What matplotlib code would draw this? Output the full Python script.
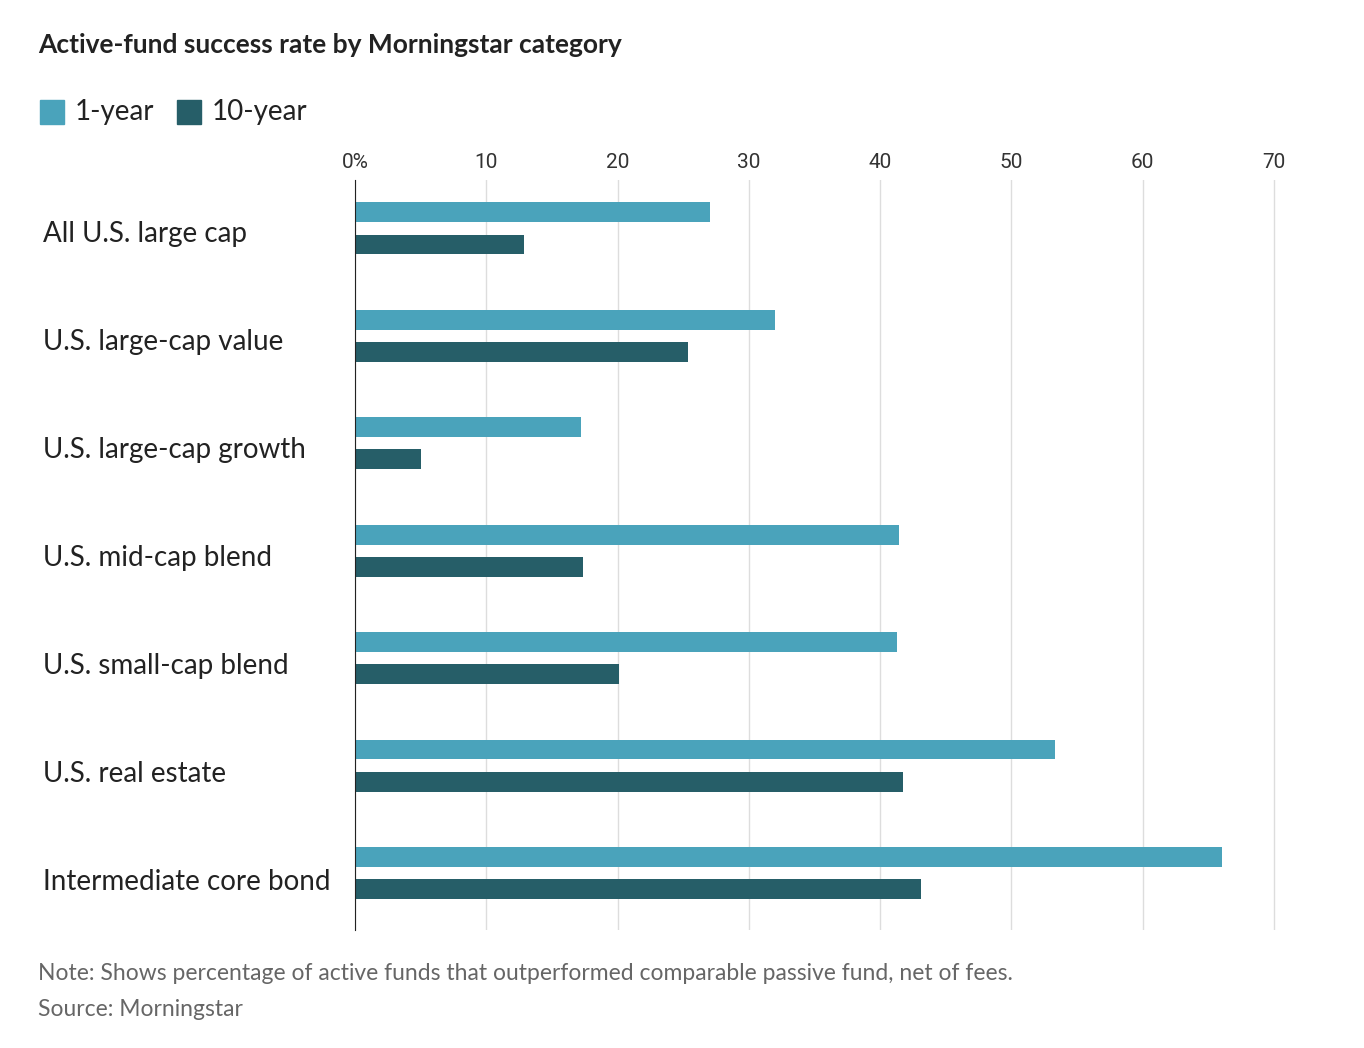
import numpy as np
import matplotlib
matplotlib.use("Agg")
import matplotlib.pyplot as plt

categories = ["All U.S. large cap", "U.S. large-cap value", "U.S. large-cap growth",
              "U.S. mid-cap blend", "U.S. small-cap blend", "U.S. real estate",
              "Intermediate core bond"]
one_year = [27.0, 32.0, 17.2, 41.4, 41.3, 53.3, 66.0]
ten_year = [12.9, 25.4, 5.0, 17.4, 20.1, 41.7, 43.1]
ticks = [0, 10, 20, 30, 40, 50, 60, 70]
tick_labels = ["0%", "10", "20", "30", "40", "50", "60", "70"]

C1, C10 = "#4aa3bb", "#265e68"
plt.rcParams["font.family"] = ["Lato", "DejaVu Sans"]

fig = plt.figure(figsize=(13.64, 10.48), dpi=100)
ax = fig.add_axes([355 / 1364, 1 - 930 / 1048, (1280 - 355) / 1364, (930 - 180) / 1048])

n = len(categories)
y = np.arange(n)
ax.barh(y - 0.15, one_year, height=0.185, color=C1)
ax.barh(y + 0.15, ten_year, height=0.185, color=C10)
ax.set_ylim(n - 0.5 + 0.03, -0.5 + 0.05)
ax.set_xlim(0, 70.45)
ax.set_xticks(ticks)
ax.set_xticklabels(tick_labels, fontsize=15, color="#333333", fontfamily=["Roboto", "DejaVu Sans"])
ax.xaxis.tick_top()
ax.tick_params(axis="x", length=0, pad=6)
ax.set_yticks([])
for s in ["top", "right", "bottom"]:
    ax.spines[s].set_visible(False)
ax.spines["left"].set_color("#222222")
ax.grid(axis="x", color="#dddddd", lw=1)
ax.set_axisbelow(True)

for i, c in enumerate(categories):
    ax.text(-311 / 1364 * 0 , i, "", transform=ax.transData)
    fig.text(43 / 1364, 1 - (234 + 108 * i) / 1048, c, fontsize=20, color="#222222",
             va="center", ha="left")

fig.text(38 / 1364, 1 - 45 / 1048, "Active-fund success rate by Morningstar category",
         fontsize=19, fontweight="bold", color="#222222", va="center")
fig.patches.append(plt.Rectangle((40 / 1364, 1 - 124 / 1048), 24 / 1364, 24 / 1048,
                                 color=C1, transform=fig.transFigure))
fig.text(75 / 1364, 1 - 112 / 1048, "1-year", fontsize=20, color="#222222", va="center")
fig.patches.append(plt.Rectangle((177 / 1364, 1 - 124 / 1048), 24 / 1364, 24 / 1048,
                                 color=C10, transform=fig.transFigure))
fig.text(212 / 1364, 1 - 112 / 1048, "10-year", fontsize=20, color="#222222", va="center")

fig.text(38 / 1364, 1 - 974 / 1048,
         "Note: Shows percentage of active funds that outperformed comparable passive fund, net of fees.",
         fontsize=16.5, color="#666666", va="center")
fig.text(38 / 1364, 1 - 1010 / 1048, "Source: Morningstar", fontsize=16.5, color="#666666", va="center")

fig.savefig("out.png", dpi=100, facecolor="white")
